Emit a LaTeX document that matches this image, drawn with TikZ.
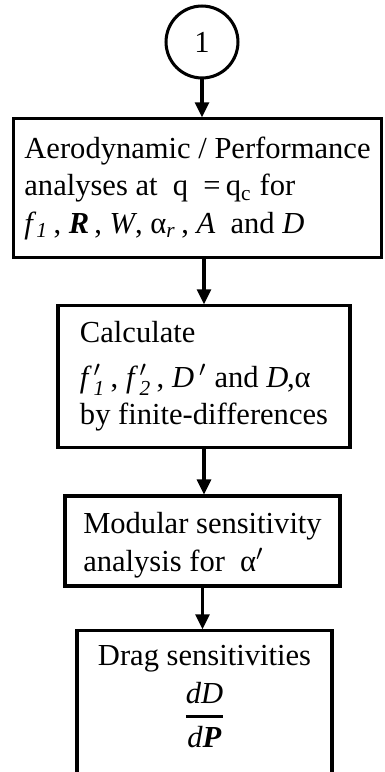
\documentclass[tikz,border=0pt]{standalone}
\usepackage{fontspec}
\usepackage{amsmath}
\setmainfont{Liberation Serif}
\usetikzlibrary{arrows.meta}

\begin{document}
\begin{tikzpicture}[node distance=1cm, auto, font=\fontsize{11}{13.5}\selectfont]
        \tikzstyle{block}=[draw, rectangle, line width=1.1pt, align=left, inner sep=2pt];
        \tikzstyle{conn}=[line width=1.1pt, -{Triangle[length=5.4pt, width=5pt]}];

        \useasboundingbox (-72.72pt,15.12pt) rectangle (65.88pt,-262.8pt);

        \node[draw, circle, line width=1.1pt, minimum size=25.9pt, inner sep=0pt] (start) {1};
        \node[block, below of=start, node distance=52.56pt, xshift=-1.62pt, minimum width=132.8pt, minimum height=49.7pt] (aero) {Aerodynamic / Performance\\analyses at~ q~ =\,q\textsubscript{c} for\\\textit{f}\textsubscript{\textit{1}}\,, \textbf{\textit{R}}\,, \textit{W}, α\textsubscript{\textit{r}}\,, \textit{A}~ and \textit{D}};
        \node[block, below of=aero, node distance=67.86pt, xshift=2.34pt, minimum width=105.1pt, minimum height=50.8pt] (calc) {Calculate\\[2.5pt]$\textit{f}\,'_{\textit{1}}$\,, $\textit{f}\,'_{\textit{2}}$\,, $\textit{D}\,'$ and \textit{D}\kern-0.5pt,α\\by finite-differences};
        \node[block, below of=calc, node distance=59.22pt, xshift=-0.54pt, minimum width=99pt, minimum height=32.4pt] (modsens) {\rule{0pt}{10.5pt}Modular sensitivity\\analysis for~ α$'$};
        \node[block, below of=modsens, node distance=63.36pt, xshift=0.72pt, minimum width=91.8pt] (drag) {\parbox[t][58pt][t]{85pt}{\centering\rule{0pt}{10.5pt}Drag sensitivities\\[2.6pt]$\genfrac{}{}{1pt}{0}{\textit{dD}}{\textit{d}\textbf{\textit{P}}}$}};

        \draw[conn] (start) -- (start |- aero.north);
        \draw[conn] (calc |- aero.south) -- (calc);
        \draw[conn] (calc) -- (calc |- modsens.north);
        \draw[conn] (modsens) -- (modsens |- drag.north);
\end{tikzpicture}
\end{document}
